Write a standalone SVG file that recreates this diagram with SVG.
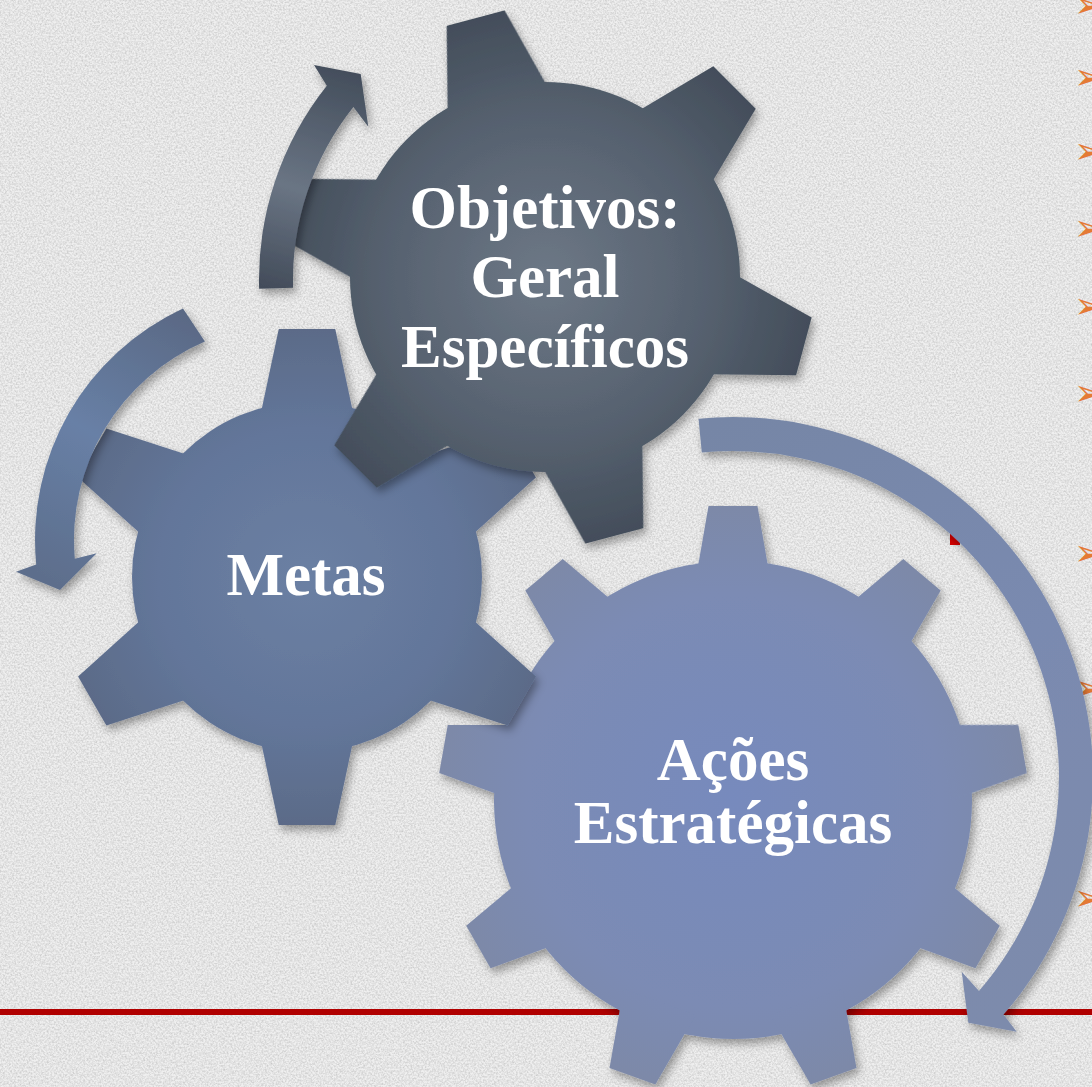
<svg xmlns="http://www.w3.org/2000/svg" xmlns:xlink="http://www.w3.org/1999/xlink" width="1092" height="1087" viewBox="0 0 1092 1087">
<defs>
<style>
.lbl{font-family:"Liberation Serif","Times New Roman",serif;font-weight:bold;font-size:61px;fill:#ffffff;text-anchor:middle}
.bul{font-family:"DejaVu Sans",sans-serif;font-size:36px;fill:#e47a35;dominant-baseline:central}
</style>
<filter id="paper" x="0" y="0" width="100%" height="100%">
<feTurbulence type="fractalNoise" baseFrequency="0.55" numOctaves="3" seed="7"/>
<feColorMatrix type="matrix" values="0 0 0 0 0  0 0 0 0 0  0 0 0 0 0  0.9 0 0 0 -0.3"/>
</filter>
<filter id="sh" x="-10%" y="-10%" width="125%" height="125%">
<feDropShadow dx="3" dy="5" stdDeviation="4" flood-color="#000" flood-opacity="0.35"/>
</filter>
<radialGradient id="g1" gradientUnits="userSpaceOnUse" cx="0" cy="0" r="270">
<stop offset="0" stop-color="#6d7886"/><stop offset="0.6" stop-color="#56616f"/><stop offset="1" stop-color="#434d5a"/>
</radialGradient>
<radialGradient id="g2" gradientUnits="userSpaceOnUse" cx="0" cy="0" r="248">
<stop offset="0" stop-color="#6b80a3"/><stop offset="0.6" stop-color="#63769a"/><stop offset="1" stop-color="#5b6b88"/>
</radialGradient>
<radialGradient id="g3" gradientUnits="userSpaceOnUse" cx="0" cy="0" r="294">
<stop offset="0" stop-color="#778abd"/><stop offset="0.7" stop-color="#7b8bb4"/><stop offset="1" stop-color="#7d89a8"/>
</radialGradient>
<linearGradient id="ga" gradientUnits="userSpaceOnUse" x1="276" y1="290" x2="340" y2="70">
<stop offset="0" stop-color="#434c5a"/><stop offset="0.45" stop-color="#6a7584"/><stop offset="1" stop-color="#444e5c"/>
</linearGradient>
<linearGradient id="gb" gradientUnits="userSpaceOnUse" x1="195" y1="320" x2="50" y2="580">
<stop offset="0" stop-color="#5a6985"/><stop offset="0.5" stop-color="#6880a6"/><stop offset="1" stop-color="#5d6e8c"/>
</linearGradient>
<linearGradient id="gc" gradientUnits="userSpaceOnUse" x1="700" y1="430" x2="990" y2="1020">
<stop offset="0" stop-color="#7686a6"/><stop offset="0.5" stop-color="#7a8ab0"/><stop offset="1" stop-color="#7d8bac"/>
</linearGradient>
<path id="t1" d="M180,-52.4 L268,-30 L268,30 L180,52.4 Z"/>
<path id="t2" d="M160,-47 L248,-28.3 L248,28.3 L160,47 Z"/>
<path id="t3" d="M215,-38.3 L294,-24.4 L294,24.4 L215,38.3 Z"/>
</defs>

<rect width="1092" height="1087" fill="#efefef"/>
<rect width="1092" height="1087" filter="url(#paper)" opacity="0.3"/>

<g id="bullets">
<text class="bul" x="1074" y="4">➢</text>
<text class="bul" x="1074" y="76">➢</text>
<text class="bul" x="1074" y="150">➢</text>
<text class="bul" x="1074" y="227">➢</text>
<text class="bul" x="1074" y="305">➢</text>
<text class="bul" x="1074" y="392">➢</text>
<text class="bul" x="1074" y="552">➢</text>
<text class="bul" x="1074" y="687">➢</text>
<text class="bul" x="1074" y="763">➢</text>
<text class="bul" x="1074" y="897">➢</text>
</g>

<rect id="red-line" x="0" y="1009" width="1092" height="6" fill="#b00000"/>
<rect id="red-mark" x="950" y="527" width="10" height="18" fill="#d80000"/>

<g id="gear-acoes">
<g transform="translate(733,800)" fill="url(#g3)" filter="url(#sh)">
<circle r="239"/>
<use xlink:href="#t3" transform="rotate(-90)"/>
<use xlink:href="#t3" transform="rotate(-50)"/>
<use xlink:href="#t3" transform="rotate(-10)"/>
<use xlink:href="#t3" transform="rotate(30)"/>
<use xlink:href="#t3" transform="rotate(70)"/>
<use xlink:href="#t3" transform="rotate(110)"/>
<use xlink:href="#t3" transform="rotate(150)"/>
<use xlink:href="#t3" transform="rotate(190)"/>
<use xlink:href="#t3" transform="rotate(230)"/>
</g>
<text class="lbl" x="733" y="780">Ações</text>
<text class="lbl" x="733" y="843">Estratégicas</text>
</g>

<g id="gear-metas">
<g transform="translate(307,577)" fill="url(#g2)" filter="url(#sh)">
<circle r="175"/>
<use xlink:href="#t2" transform="rotate(-90)"/>
<use xlink:href="#t2" transform="rotate(-30)"/>
<use xlink:href="#t2" transform="rotate(30)"/>
<use xlink:href="#t2" transform="rotate(90)"/>
<use xlink:href="#t2" transform="rotate(150)"/>
<use xlink:href="#t2" transform="rotate(210)"/>
</g>
<text class="lbl" x="306" y="595">Metas</text>
</g>

<g id="gear-objetivos">
<g transform="translate(545,277)" fill="url(#g1)" filter="url(#sh)">
<circle r="195"/>
<use xlink:href="#t1" transform="rotate(-105)"/>
<use xlink:href="#t1" transform="rotate(-45)"/>
<use xlink:href="#t1" transform="rotate(15)"/>
<use xlink:href="#t1" transform="rotate(75)"/>
<use xlink:href="#t1" transform="rotate(135)"/>
<use xlink:href="#t1" transform="rotate(195)"/>
</g>
<text class="lbl" x="545" y="228">Objetivos:</text>
<text class="lbl" x="545" y="297">Geral</text>
<text class="lbl" x="545" y="367">Específicos</text>
</g>

<g id="connectors" filter="url(#sh)">
<path id="arrow-a" fill="url(#ga)" d="M259.1,288.7 A312,312 0 0 1 326.8,85.8 L314,65 L360.7,74 L368.3,126.7 L353.4,106.9 A278,278 0 0 0 293.1,287.8 Z"/>
<path id="arrow-b" fill="url(#gb)" d="M183,308.5 A255,255 0 0 0 36.2,564.4 L16,571.7 L60,590 L96.7,553.3 L74.8,558.8 A216,216 0 0 1 204.9,341.5 Z"/>
<path id="arrow-c" fill="url(#gc)" d="M698.5,418.7 A360,360 0 0 1 1003.5,1014.6 L1016.7,1031.7 L968.3,1022.7 L961.7,971.7 L979,990.9 A326,326 0 0 0 701.8,452.5 Z"/>
</g>
</svg>
